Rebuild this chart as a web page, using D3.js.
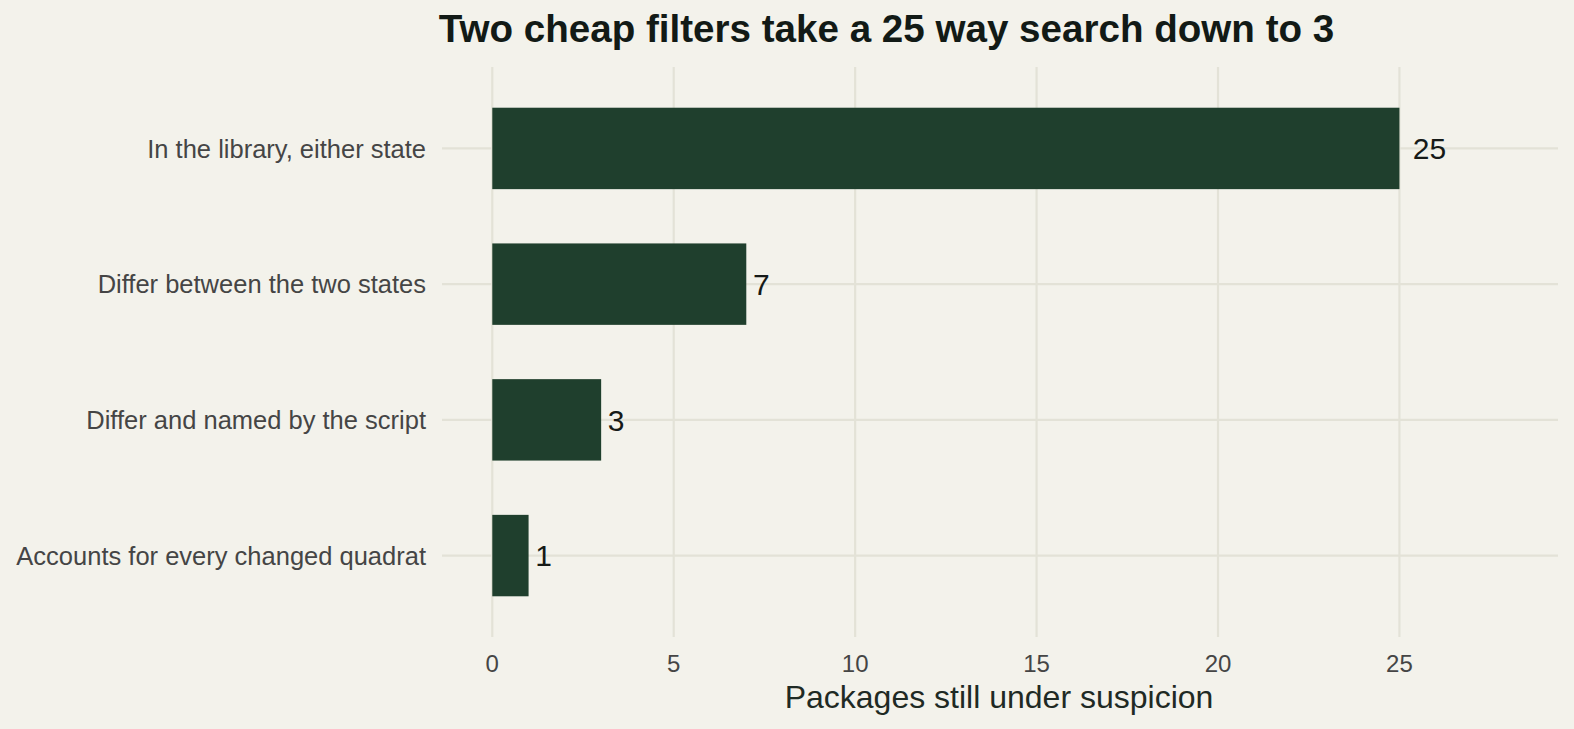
<!DOCTYPE html>
<html>
<head>
<meta charset="utf-8">
<script src="https://cdn.jsdelivr.net/npm/d3@7"></script>
<style>
  html, body { margin: 0; padding: 0; background: #f3f2eb; }
  svg { display: block; }
  text { font-family: "Liberation Sans", Arial, Helvetica, sans-serif; }
</style>
</head>
<body>
<svg id="chart" width="1574" height="729"></svg>
<script>
const categories = [
  "In the library, either state",
  "Differ between the two states",
  "Differ and named by the script",
  "Accounts for every changed quadrat"
];
const values = [25, 7, 3, 1];
const xTicks = [0, 5, 10, 15, 20, 25];
const titleText = "Two cheap filters take a 25 way search down to 3";
const xTitle = "Packages still under suspicion";

const W = 1574, H = 729;
const panel = { left: 442, right: 1558, top: 67, bottom: 637 };

const svg = d3.select("#chart");
svg.append("rect").attr("width", W).attr("height", H).attr("fill", "#f3f2eb");

const x = d3.scaleLinear().domain([-1.386, 29.37]).range([panel.left, panel.right]);
const y = d3.scalePoint().domain(categories).range([panel.top, panel.bottom]).padding(0.6);
const barH = y.step() * 0.6;

const grid = svg.append("g");
grid.selectAll("line.v").data(xTicks).join("line")
  .attr("x1", d => x(d)).attr("x2", d => x(d))
  .attr("y1", panel.top).attr("y2", panel.bottom)
  .attr("stroke", "#e3e2d7").attr("stroke-width", 2.2);
grid.selectAll("line.h").data(categories).join("line")
  .attr("x1", panel.left).attr("x2", panel.right)
  .attr("y1", d => y(d)).attr("y2", d => y(d))
  .attr("stroke", "#e3e2d7").attr("stroke-width", 2.2);

const data = categories.map((c, i) => ({ c, v: values[i] }));

svg.append("g").selectAll("rect").data(data).join("rect")
  .attr("x", x(0))
  .attr("y", d => y(d.c) - barH / 2)
  .attr("width", d => x(d.v) - x(0))
  .attr("height", barH)
  .attr("fill", "#1f3f2d");

const labels = svg.append("g").selectAll("text").data(data).join("text")
  .attr("y", d => y(d.c) + 10.8)
  .attr("font-size", 30)
  .attr("fill", "#161a18")
  .text(d => d.v);
labels.each(function(d) {
  const w = this.getComputedTextLength();
  d3.select(this).attr("x", x(d.v) + 0.4 * w);
});

// y axis labels
svg.append("g").selectAll("text").data(categories).join("text")
  .attr("x", 426)
  .attr("y", d => y(d) + 9.3)
  .attr("text-anchor", "end")
  .attr("font-size", 25.5)
  .attr("fill", "#454545")
  .text(d => d);

// x axis labels
svg.append("g").selectAll("text").data(xTicks).join("text")
  .attr("x", d => x(d))
  .attr("y", 672)
  .attr("text-anchor", "middle")
  .attr("font-size", 24)
  .attr("fill", "#454545")
  .text(d => d);

svg.append("text")
  .attr("x", (panel.left + panel.right) / 2 - 1)
  .attr("y", 707.5)
  .attr("text-anchor", "middle")
  .attr("font-size", 32)
  .attr("fill", "#1f2a24")
  .text(xTitle);

svg.append("text")
  .attr("x", 886.5)
  .attr("y", 42)
  .attr("text-anchor", "middle")
  .attr("font-size", 38.6)
  .attr("font-weight", "bold")
  .attr("fill", "#121a16")
  .text(titleText);
</script>
</body>
</html>
